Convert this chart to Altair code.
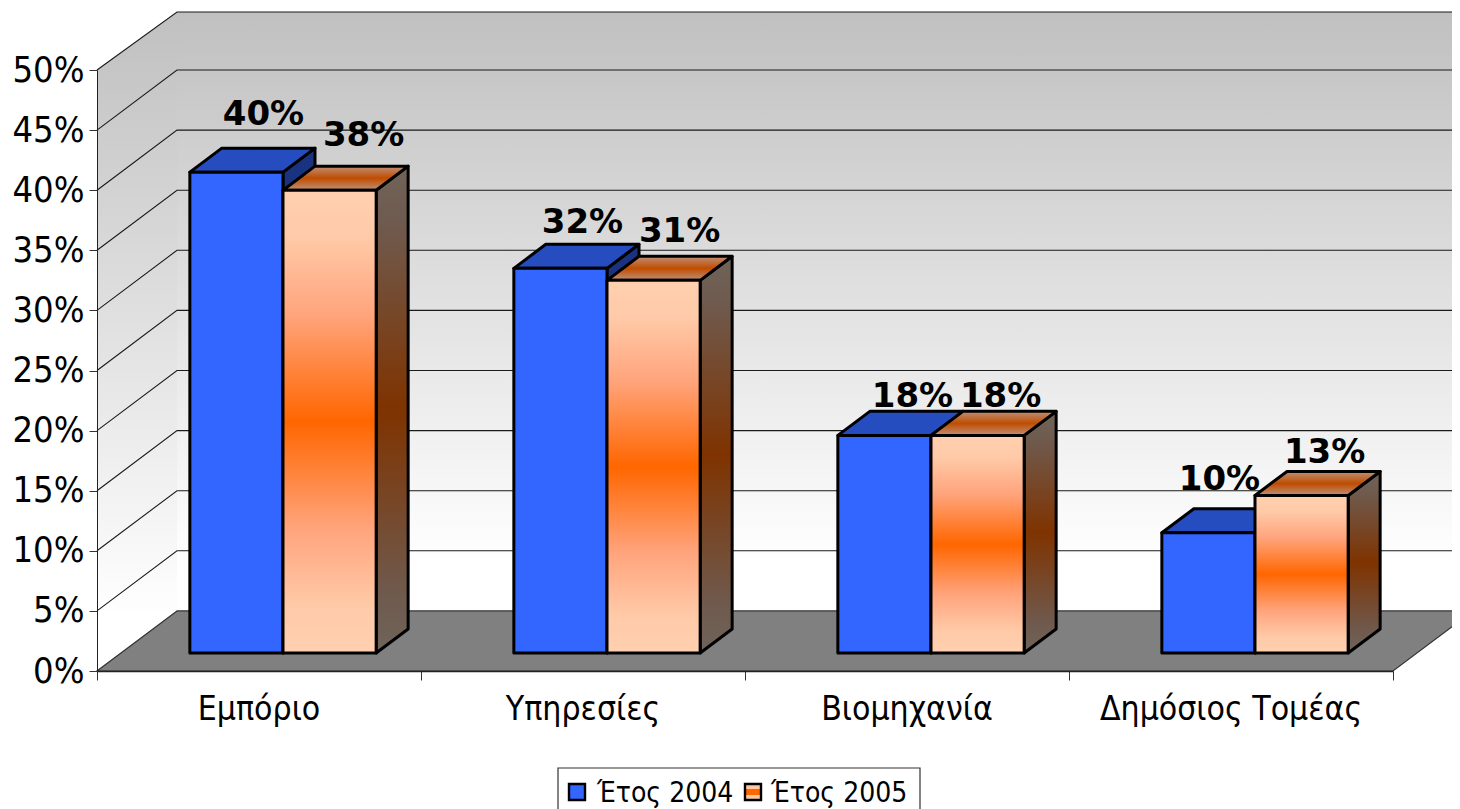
import altair as alt
import pandas as pd

categories = ["Εμπόριο", "Υπηρεσίες", "Βιομηχανία", "Δημόσιος Τομέας"]
series_names = ["Έτος 2004", "Έτος 2005"]
values_2004 = [40.0, 32.0, 18.1, 10.0]
values_2005 = [38.5, 31.0, 18.1, 13.1]
labels_2004 = ["40%", "32%", "18%", "10%"]
labels_2005 = ["38%", "31%", "18%", "13%"]
y_ticks = [0, 5, 10, 15, 20, 25, 30, 35, 40, 45, 50]

# Projection of the depth axis on the plane, in scale units
DEPTH_X = 80 / 324
DEPTH_Y = 5.0
WALL_TOP = 54.83
FRONT, BACK = 0.3, 0.7
PX_X, PX_Y = 324.0, 12.02
BAR_L = [0.2125, 0.5]
BAR_W = 0.2875

# Label nudges relative to the top front edge of each bar (pixels)
lab_dx = [[27, 22, 28, 11], [34, 26, 23, 23]]
lab_dy = [[59, 47, 40, 55], [56, 50, 40, 45]]

FONT = "DejaVu Sans Condensed"
FONT_B = "DejaVu Sans"

W, H = 1296, 601
xs = alt.Scale(domain=[0, 4], range=[0, W], nice=False, zero=False)
ys = alt.Scale(domain=[0, 50], range=[H, 0], nice=False, zero=False)

axis_x = alt.Axis(values=[0, 1, 2, 3, 4], labels=False, ticks=True, tickSize=9, tickColor="#333333",
                  domainColor="#222222", domainWidth=1.5, grid=False, zindex=1, title=None)
axis_y = alt.Axis(values=y_ticks, labelExpr="datum.value + '%'", labelFont=FONT, labelFontSize=36,
                  labelColor="#000000", labelPadding=5, tickSize=8, tickColor="#333333",
                  domainColor="#222222", grid=False, zindex=1, title=None, labelBaseline="middle")


def X(f="x"):
    return alt.X(f + ":Q", scale=xs, axis=axis_x, title=None, stack=None)


def Y(f="y"):
    return alt.Y(f + ":Q", scale=ys, axis=axis_y, title=None, stack=None)


def grad(stops, vertical=True):
    return {
        "gradient": "linear",
        "x1": 0, "y1": 0,
        "x2": 0 if vertical else 1, "y2": 1 if vertical else 0,
        "stops": [{"offset": o, "color": c} for o, c in stops],
    }


wall_grad = grad([(0, "#c0c0c0"), (0.92, "#ffffff"), (1, "#ffffff")])
front05 = grad([(0, "#ffd0b0"), (0.1, "#ffcaa8"), (0.27, "#ffa47c"), (0.5, "#ff6600"),
                (0.73, "#ffa47c"), (0.9, "#ffcaa8"), (1, "#ffd0b0")])
side05 = grad([(0, "#6f6459"), (0.12, "#6f5a4e"), (0.5, "#7f3300"), (0.88, "#6f5a4e"), (1, "#6f6459")])
top05 = grad([(0, "#c09078"), (0.5, "#bf4d00"), (1, "#c09078")])
BLUE, BLUE_T, BLUE_S = "#3366ff", "#264dbf", "#1a3380"

# Walls
side_wall = pd.DataFrame({"x": [0, DEPTH_X], "y": [50, WALL_TOP], "y2": [0, DEPTH_Y]})
back_wall = pd.DataFrame({"x": [DEPTH_X], "x2": [4 + DEPTH_X], "y": [WALL_TOP], "y2": [DEPTH_Y]})
floor = pd.DataFrame({"y": [0, DEPTH_Y], "x": [0, DEPTH_X], "x2": [4, 4 + DEPTH_X]})

grid_rows = []
for v in y_ticks[1:]:
    back = WALL_TOP if v == 50 else v + DEPTH_Y
    for i, (x, y) in enumerate([(0, v), (DEPTH_X, back), (4 + DEPTH_X, back)]):
        grid_rows.append({"v": v, "i": i, "x": x, "y": y})
grid = pd.DataFrame(grid_rows)

layers = [
    alt.Chart(side_wall).mark_area(fill=wall_grad).encode(X(), Y(), alt.Y2("y2:Q")),
    alt.Chart(back_wall).mark_rect(fill=wall_grad).encode(X(), alt.X2("x2:Q"), Y(), alt.Y2("y2:Q")),
    alt.Chart(grid).mark_line(color="#1a1a1a", strokeWidth=1.1).encode(X(), Y(), detail="v:N", order="i:Q"),
    alt.Chart(floor).mark_area(orient="horizontal", fill="#808080", stroke="#333333", strokeWidth=1.2)
    .encode(X(), alt.X2("x2:Q"), Y()),
]

labels_rows = []
for s, vals in enumerate([values_2004, values_2005]):
    side_rows, top_rows, front_rows = [], [], []
    for c, v in enumerate(vals):
        l = c + BAR_L[s]
        r = l + BAR_W
        for d in (FRONT, BACK):
            base = d * DEPTH_Y
            side_rows.append({"c": c, "x": r + d * DEPTH_X, "y": v + base, "y2": base})
            top_rows.append({"c": c, "y": v + base, "x": l + d * DEPTH_X, "x2": r + d * DEPTH_X})
        front_rows.append({"c": c, "x": l + FRONT * DEPTH_X, "x2": r + FRONT * DEPTH_X,
                           "y": v + FRONT * DEPTH_Y, "y2": FRONT * DEPTH_Y})
        labels_rows.append({
            "x": (l + r) / 2 + FRONT * DEPTH_X + lab_dx[s][c] / PX_X,
            "y": v + FRONT * DEPTH_Y + lab_dy[s][c] / PX_Y,
            "t": (labels_2004 if s == 0 else labels_2005)[c],
        })
    fills = (BLUE_S, BLUE_T, BLUE) if s == 0 else (side05, top05, front05)
    stroke = dict(stroke="#000000", strokeWidth=3, strokeJoin="round")
    layers += [
        alt.Chart(pd.DataFrame(side_rows)).mark_area(fill=fills[0], **stroke)
        .encode(X(), Y(), alt.Y2("y2:Q"), detail="c:N"),
        alt.Chart(pd.DataFrame(top_rows)).mark_area(orient="horizontal", fill=fills[1], **stroke)
        .encode(X(), alt.X2("x2:Q"), Y(), detail="c:N"),
        alt.Chart(pd.DataFrame(front_rows)).mark_rect(fill=fills[2], **stroke)
        .encode(X(), alt.X2("x2:Q"), Y(), alt.Y2("y2:Q")),
    ]

layers.append(
    alt.Chart(pd.DataFrame(labels_rows))
    .mark_text(font=FONT_B, fontWeight="bold", fontSize=34, color="#000000", align="center",
               baseline="middle", dy=2)
    .encode(X(), Y(), text="t:N")
)

cat_df = pd.DataFrame({"t": categories, "x": [i + 0.5 for i in range(4)], "y": [0] * 4})
layers.append(
    alt.Chart(cat_df)
    .mark_text(font=FONT, fontSize=33.5, color="#000000", align="center", baseline="alphabetic", dy=49)
    .encode(X(), Y(), text="t:N")
)

# Legend box (pixel positions inside the plot frame)
OX, OY = 97, 70


def rx(p):
    return alt.value(p - OX)


def ry(p):
    return alt.value(p - OY)


dummy = pd.DataFrame({"a": [0]})
layers.append(alt.Chart(dummy).mark_rect(fill="#ffffff", stroke="#333333", strokeWidth=1.2)
              .encode(x=rx(558), x2=rx(920), y=ry(768), y2=ry(820)))
swatch05 = grad([(0, "#ffc8a4"), (0.3, "#ffc8a4"), (0.31, "#ff6600"), (0.69, "#ff6600"), (0.7, "#ffc8a4"), (1, "#ffc8a4")])
for name, fill, sx, tx in zip(series_names, [BLUE, swatch05], [569, 745], [597, 771]):
    layers.append(alt.Chart(dummy).mark_rect(fill=fill, stroke="#000000", strokeWidth=2.4)
                  .encode(x=rx(sx), x2=rx(sx + 16), y=ry(784), y2=ry(800)))
    layers.append(alt.Chart(pd.DataFrame({"t": [name]}))
                  .mark_text(font=FONT, fontSize=28, color="#000000", align="left", baseline="alphabetic")
                  .encode(x=rx(tx), y=ry(802), text="t:N"))

chart = (
    alt.layer(*layers)
    .properties(
        width=W, height=H,
        autosize=alt.AutoSizeParams(type="none"),
        padding={"left": 89, "top": 62, "right": 59, "bottom": 138},
        background="#ffffff",
    )
    .configure_view(stroke=None)
)

chart.save("out.html", embed_options={"renderer": "svg", "actions": False})
